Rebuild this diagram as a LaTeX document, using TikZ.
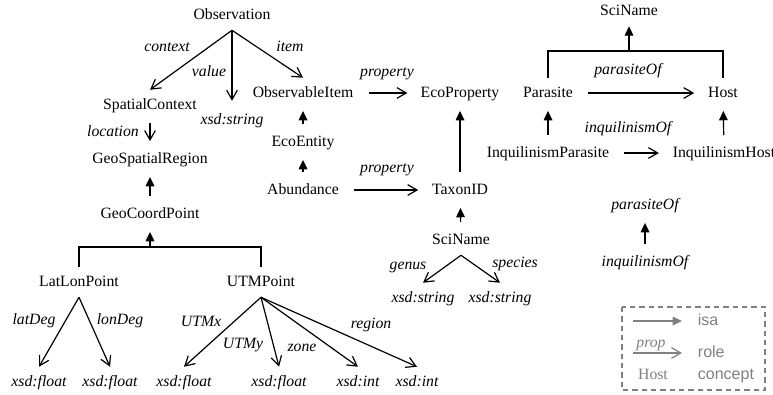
\documentclass[tikz,border=0pt]{standalone}
\usepackage{fontspec}
\setmainfont{Liberation Serif}
\setsansfont{Liberation Sans}
\usepackage{tikz}
\usetikzlibrary{arrows.meta}

\begin{document}
\begin{tikzpicture}[x=0.75pt, y=-0.75pt, line width=0.9pt,
  every node/.style={font=\fontsize{11.8}{14}\selectfont, inner xsep=4pt, inner ysep=5.5pt, text height=8.5pt, text depth=2.5pt},
  lbl/.style={font=\fontsize{11.8}{14}\selectfont\itshape},
  isa/.style={-{Triangle[length=7pt,width=6.5pt]}},
  role/.style={-{Straight Barb[length=7pt,width=8pt]}},
  hgap/.style={shorten <=7pt, shorten >=6pt},
  vgap/.style={shorten <=2pt, shorten >=2pt},
  legend/.style={draw=gray, dashed, dash pattern=on 4pt off 3pt, line width=0.8pt},
  legtext/.style={font=\sffamily\fontsize{12}{14}\selectfont, text=gray, anchor=west}]
  \useasboundingbox (0,0) rectangle (773,394);

  % concepts
  \node (obs) at (232,15) {Observation};
  \node (spatial) at (150,105) {SpatialContext};
  \node (obsstr) [lbl] at (232,120) {xsd:string};
  \node (obsitem) at (303,93) {ObservableItem};
  \node (ecoprop) at (460,93) {EcoProperty};
  \node (ecoent) at (303,142) {EcoEntity};
  \node (abund) at (303,190) {Abundance};
  \node (taxon) at (460,190) {TaxonID};
  \node (parasite) at (548,93) {Parasite};
  \node (host) at (723,93) {Host};
  \node (sciname) at (629,11) {SciName};
  \node (inqpar) at (548,153) {InquilinismParasite};
  \node (inqhost) at (724,153) {InquilinismHost};
  \node (parof) [lbl] at (645,205) {parasiteOf};
  \node (inqof) [lbl] at (645,262) {inquilinismOf};
  \node (georeg) at (150,159) {GeoSpatialRegion};
  \node (geopt) at (150,214) {GeoCoordPoint};
  \node (latlon) at (79,282) {LatLonPoint};
  \node (utm) at (261,282) {UTMPoint};
  \node (latf) [lbl] at (39,382) {xsd:float};
  \node (lonf) [lbl] at (110,382) {xsd:float};
  \node (utmxf) [lbl] at (184,382) {xsd:float};
  \node (utmyf) [lbl] at (279,382) {xsd:float};
  \node (zonei) [lbl] at (358,382) {xsd:int};
  \node (regi) [lbl] at (417,382) {xsd:int};
  \node (sciname2) at (461,240) {SciName};
  \node (genstr) [lbl] at (423,298) {xsd:string};
  \node (spstr) [lbl] at (500,298) {xsd:string};

  % role labels
  \node (lcontext) [lbl] at (167,47) {context};
  \node (lvalue) [lbl] at (209,72) {value};
  \node (litem) [lbl] at (290,47) {item};
  \node (lprop1) [lbl] at (387,72) {property};
  \node (lprop2) [lbl] at (387,168) {property};
  \node (lparof) [lbl] at (628,70) {parasiteOf};
  \node (linqof) [lbl] at (628,128) {inquilinismOf};
  \node (lloc) [lbl] at (113,132) {location};
  \node (llat) [lbl] at (34,320) {latDeg};
  \node (llon) [lbl] at (120,320) {lonDeg};
  \node (lutmx) [lbl] at (201,322) {UTMx};
  \node (lutmy) [lbl] at (243,344) {UTMy};
  \node (lzone) [lbl] at (302,347) {zone};
  \node (lregion) [lbl] at (371,324) {region};
  \node (lgenus) [lbl] at (408,265) {genus};
  \node (lspecies) [lbl] at (515,263) {species};

  % roles
  \draw [role] (obs.south) -- (spatial.north);
  \draw [role, shorten >=3pt] (obs.south) -- (obsstr.north);
  \draw [role] (obs.south) -- (obsitem.north);
  \draw [role, shorten <=7pt, shorten >=5.5pt] (obsitem) -- (ecoprop);
  \draw [role, hgap] (abund) -- (taxon);
  \draw [role, hgap] (parasite) -- (host);
  \draw [role, hgap] (inqpar) -- (inqhost);
  \draw [role, vgap] (spatial) -- (georeg);
  \draw [role] (latlon.south) -- (latf.north);
  \draw [role] (latlon.south) -- (lonf.north);
  \draw [role] (utm.south) -- (utmxf.north);
  \draw [role] (utm.south) -- (utmyf.north);
  \draw [role] (utm.south) -- (zonei.north);
  \draw [role] (utm.south) -- (regi.north);
  \draw [role] (sciname2.south) -- (genstr.north);
  \draw [role] (sciname2.south) -- (spstr.north);

  % isa
  \draw [isa, vgap] (ecoent) -- (obsitem);
  \draw [isa, vgap] (abund) -- (ecoent);
  \draw [isa, vgap] (taxon) -- (ecoprop);
  \draw [isa, vgap] (sciname2) -- (taxon);
  \draw [isa, vgap] (inqpar) -- (parasite);
  \draw [isa, vgap] (inqhost) -- (host);
  \draw [isa, vgap] (inqof) -- (parof);
  \draw [isa, vgap] (geopt) -- (georeg);
  \coordinate (snjoin) at (629,51);
  \draw (parasite.north) |- (snjoin) -| (host.north);
  \draw [isa] (snjoin) -- (sciname);
  \coordinate (gpjoin) at (150,247);
  \draw (latlon.north) |- (gpjoin) -| (utm.north);
  \draw [isa, shorten >=2pt] (gpjoin) -- (geopt);

  % legend
  \draw [legend] (622,307) rectangle (765,390);
  \coordinate (isaa) at (633,321);
  \coordinate (isab) at (682,321);
  \coordinate (rolea) at (633,353);
  \coordinate (roleb) at (682,353);
  \draw [isa, gray] (isaa) -- (isab);
  \draw [role, gray] (rolea) -- (roleb);
  \node (lgprop) [lbl, text=gray] at (651,343) {prop};
  \node (lghost) [text=gray] at (653,375) {Host};
  \node (lgisa) [legtext] at (692,321) {isa};
  \node (lgrole) [legtext] at (692,353) {role};
  \node (lgconcept) [legtext] at (692,375) {concept};
\end{tikzpicture}
\end{document}
